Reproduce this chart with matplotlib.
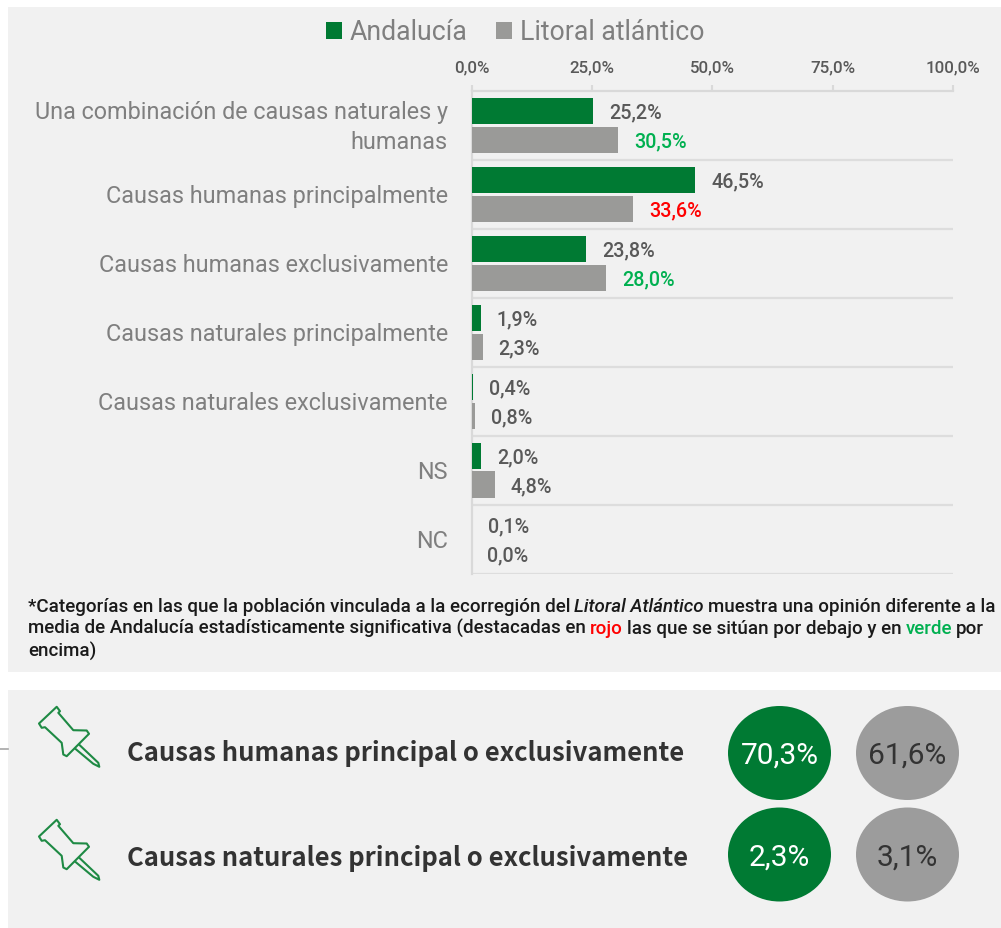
import matplotlib
matplotlib.use("Agg")
import matplotlib.pyplot as plt
from matplotlib.patches import Rectangle, Ellipse, Polygon
from matplotlib.transforms import ScaledTranslation

W, H = 1001, 929
categories = ["Una combinación de causas naturales y\nhumanas", "Causas humanas principalmente",
              "Causas humanas exclusivamente", "Causas naturales principalmente",
              "Causas naturales exclusivamente", "NS", "NC"]
andalucia = [25.2, 46.5, 23.8, 1.9, 0.4, 2.0, 0.1]
litoral = [30.5, 33.6, 28.0, 2.3, 0.8, 4.8, 0.0]
litoral_colors = ["#00B050", "#FF0000", "#00B050", "#595959", "#595959", "#595959", "#595959"]
x_ticks = [0, 25, 50, 75, 100]
x_tick_labels = ["0,0%", "25,0%", "50,0%", "75,0%", "100,0%"]
summary_labels = ["Causas humanas principal o exclusivamente", "Causas naturales principal o exclusivamente"]
summary_and = ["70,3%", "2,3%"]
summary_lit = ["61,6%", "3,1%"]

GREEN, GRAY = "#007A33", "#9A9A98"
FONT = "Roboto"
plt.rcParams["font.family"] = [FONT, "DejaVu Sans"]

fig = plt.figure(figsize=(W / 100, H / 100), dpi=100, facecolor="white")
bg = fig.add_axes([0, 0, 1, 1])
bg.set_xlim(0, W); bg.set_ylim(H - 0.5, -0.5); bg.axis("off")
bg.add_patch(Rectangle((8, 7), W - 8, 665, fc="#F1F1F1", ec="none"))
bg.add_patch(Rectangle((8, 690), W - 8, H - 690, fc="#F1F1F1", ec="none"))
bg.plot([0, 8], [749, 749], color="#A6A6A6", lw=1.2)

def px_axes(x0, y0, x1, y1):
    return fig.add_axes([x0 / W, 1 - y1 / H, (x1 - x0) / W, (y1 - y0) / H])

ax = px_axes(471.5, 92, 953, 574.5)
ax.patch.set_alpha(0)
pos = list(range(len(categories)))
bars_a = ax.barh([p - 0.21 for p in pos], andalucia, height=0.38, color=GREEN, label="Andalucía", zorder=3)
bars_l = ax.barh([p + 0.21 for p in pos], litoral, height=0.38, color=GRAY, label="Litoral atlántico", zorder=3)
ax.set_xlim(0, 100); ax.set_ylim(6.5, -0.5)
ax.xaxis.tick_top()
ax.set_xticks(x_ticks, x_tick_labels, fontsize=12.2, color="#595959", fontweight="medium")
ax.set_yticks(pos, categories, fontsize=16.85, color="#7F7F7F", linespacing=1.35)
ax.tick_params(axis="x", length=4, width=1.5, color="#D9D9D9", pad=8)
ax.tick_params(axis="y", length=0, pad=17)
for i, lab in enumerate(ax.get_yticklabels()):
    shift = 4.5 if i == 0 else 1
    lab.set_transform(lab.get_transform() + ScaledTranslation(0, shift * 0.72 / 72, fig.dpi_scale_trans))
for s in ["right", "bottom"]:
    ax.spines[s].set_visible(False)
for s in ["top", "left"]:
    ax.spines[s].set_color("#D9D9D9"); ax.spines[s].set_linewidth(1.6)
for y in [p + 0.5 for p in pos]:
    ax.axhline(y, color="#DDDDDD", lw=1.6, zorder=1)

for b, v in zip(bars_a, andalucia):
    ax.annotate(f"{v:.1f}%".replace(".", ","), (v, b.get_y() + b.get_height() / 2), xytext=(11.5, -0.7),
                textcoords="offset points", va="center", ha="left", fontsize=14.2, color="#595959", fontweight="medium")
for b, v, c in zip(bars_l, litoral, litoral_colors):
    ax.annotate(f"{v:.1f}%".replace(".", ","), (v, b.get_y() + b.get_height() / 2), xytext=(11.5, -0.7),
                textcoords="offset points", va="center", ha="left", fontsize=14.2, color=c, fontweight="medium")

leg = fig.legend(handles=[bars_a, bars_l], loc="center", bbox_to_anchor=(515 / W, 1 - 33 / H), ncol=2, frameon=False,
                 fontsize=19.2, handlelength=0.6, handleheight=0.6, handletextpad=0.3, columnspacing=1.05)
for t in leg.get_texts():
    t.set_color("#7F7F7F")

renderer = fig.canvas.get_renderer()
def rich(x, y, parts):
    for s, c, style in parts:
        t = bg.text(x, y, s, color=c, style=style, fontsize=13.5, va="baseline", ha="left", fontweight="medium")
        ext = t.get_window_extent(renderer)
        x += (ext.x1 - ext.x0) + 4

K = "#1A1A1A"
rich(28, 611, [("*Categorías en las que la población vinculada a la ecorregión del", K, "normal"),
               ("Litoral Atlántico", K, "italic"),
               ("muestra una opinión diferente a la", K, "normal")])
rich(28, 633, [("media de Andalucía estadísticamente significativa (destacadas en", K, "normal"),
               ("rojo", "#FF0000", "normal"),
               ("las que se sitúan por debajo y en", K, "normal"),
               ("verde", "#00B050", "normal"),
               ("por", K, "normal")])
rich(28, 656, [("encima)", K, "normal")])

pin_body = [(56.7, 707.3), (60, 711.7), (58.3, 713.3), (73.3, 730.7), (86.7, 731), (89, 734.3), (66.7, 756.7),
            (63.3, 755), (61.7, 743.3), (45, 727.7), (41.7, 728.3), (39, 724)]
pin_needle = [(79, 745), (98.3, 763.3), (99.3, 767.3), (93.3, 764.3), (75, 749)]
for i, (lab, a, l, cy, ty) in enumerate(zip(summary_labels, summary_and, summary_lit, [753.5, 855], [753, 858])):
    dy = i * 113
    bg.add_patch(Polygon([(x, y + dy) for x, y in pin_body], closed=True, fc="none", ec="#1E8A44", lw=1.5, joinstyle="round"))
    bg.add_patch(Polygon([(x, y + dy) for x, y in pin_needle], closed=False, fc="none", ec="#1E8A44", lw=1.5, joinstyle="round"))
    bg.text(127, ty, lab, fontsize=18.45, color="#333333", fontweight="bold", family=["Noto Sans CJK SC", "DejaVu Sans"], va="center", ha="left")
    bg.add_patch(Ellipse((779.5, cy), 103, 94, fc=GREEN, ec="none"))
    bg.add_patch(Ellipse((907.5, cy), 103, 94, fc="#9C9C9C", ec="none"))
    bg.text(779.5, cy + 2, a, fontsize=21.5, color="white", ha="center", va="center")
    bg.text(907.5, cy + 2, l, fontsize=21.5, color="#333333", ha="center", va="center")

fig.savefig("out.png", dpi=100)
